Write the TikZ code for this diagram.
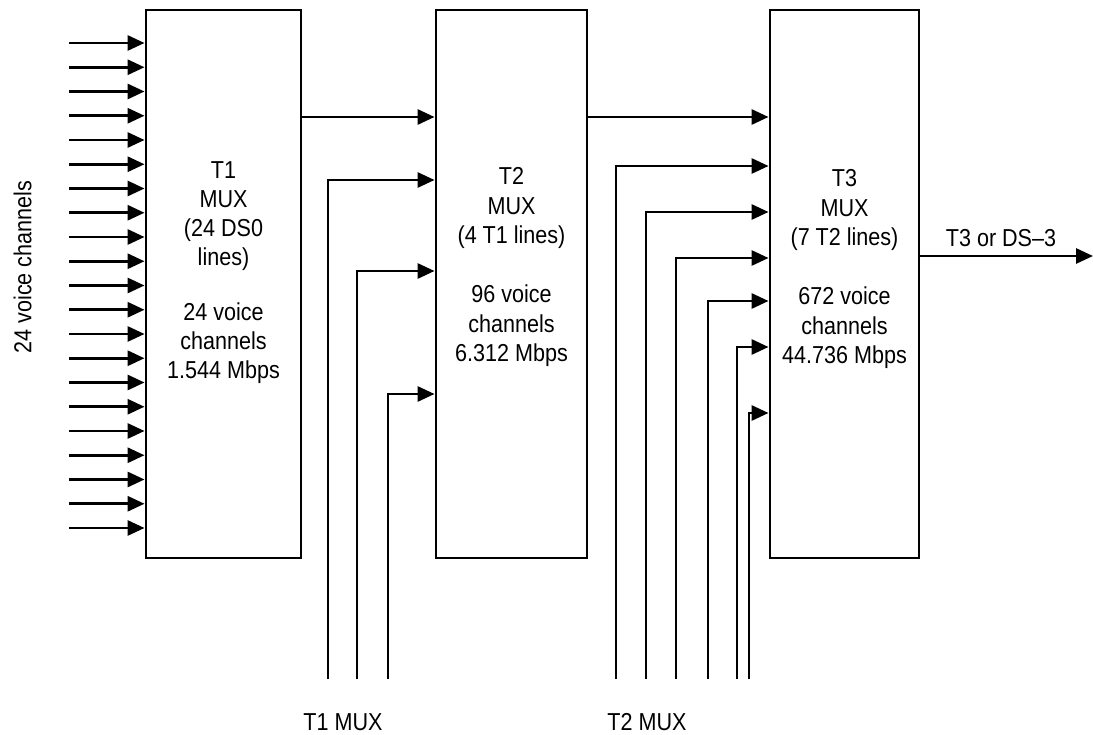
\documentclass[tikz,border=0pt]{standalone}
\usepackage{fontspec}
\setmainfont[FakeStretch=0.88]{Liberation Sans}
\usetikzlibrary{arrows.meta}
\begin{document}
\begin{tikzpicture}[x=1pt,y=-1pt,
  line width=2.9pt,
  mux/.style={draw, minimum height=548pt, inner sep=0pt, line width=2.9pt},
  txt/.style={align=center, inner sep=0pt, font=\fontsize{24.5}{29.5}\selectfont},
  lbl/.style={inner sep=0pt, font=\fontsize{24.5}{29.5}\selectfont},
  arr/.style={-{Triangle[length=17pt,width=15pt]}, line width=2.9pt}]
\useasboundingbox (0,0) rectangle (1093,735);

% boxes
\node[mux, minimum width=155pt] (t1) at (223.5,284) {};
\node[mux, minimum width=151pt] (t2) at (511.5,284) {};
\node[mux, minimum width=149pt] (t3) at (844.5,284) {};

% box texts
\node[txt, font=\fontsize{24.5}{29}\selectfont, anchor=north] (t1t) at (223.5,160.2)
  {T1\\MUX\\(24 DS0\\lines)\\[26pt]24 voice\\channels\\1.544 Mbps};
\node[txt, anchor=north] (t2t) at (511.5,166.2)
  {T2\\MUX\\(4 T1 lines)\\[29.5pt]96 voice\\channels\\6.312 Mbps};
\node[txt, anchor=north] (t3t) at (844.5,168.2)
  {T3\\MUX\\(7 T2 lines)\\[29.5pt]672 voice\\channels\\44.736 Mbps};

% left label
\node[lbl, rotate=90] (vc) at (22.5,267) {24 voice channels};

% T1 inputs
\foreach \i in {0,...,20} {
  \coordinate (in\i) at (69,{43+24.25*\i});
  \draw[arr] (in\i) -- (in\i -| t1.west);
}

% T1 -> T2, T2 -> T3
\coordinate (r1) at (300,117);
\draw[arr] (t1.east |- r1) -- (t2.west |- r1);
\draw[arr] (t2.east |- r1) -- (t3.west |- r1);

% T1 MUX inputs to T2
\coordinate (a1) at (328,679);
\coordinate (a2) at (357,679);
\coordinate (a3) at (388,679);
\draw[arr] (a1) |- (t2.west |- 0,180);
\draw[arr] (a2) |- (t2.west |- 0,271);
\draw[arr] (a3) |- (t2.west |- 0,394);
\node[lbl, anchor=base] (l1) at (343,730) {T1 MUX};

% T2 MUX inputs to T3
\coordinate (b1) at (616,679);
\coordinate (b2) at (646,679);
\coordinate (b3) at (676,679);
\coordinate (b4) at (708,679);
\coordinate (b5) at (737,679);
\coordinate (b6) at (749,679);
\draw[arr] (b1) |- (t3.west |- 0,166);
\draw[arr] (b2) |- (t3.west |- 0,212);
\draw[arr] (b3) |- (t3.west |- 0,258);
\draw[arr] (b4) |- (t3.west |- 0,301);
\draw[arr] (b5) |- (t3.west |- 0,347);
\draw[arr] (b6) |- (t3.west |- 0,413);
\node[lbl, anchor=base] (l2) at (647,730) {T2 MUX};

% output
\coordinate (out) at (1093,256);
\draw[arr] (t3.east |- out) -- (out);
\node[lbl, anchor=base] (ol) at (1001,246.8) {T3 or DS–3};
\end{tikzpicture}
\end{document}
